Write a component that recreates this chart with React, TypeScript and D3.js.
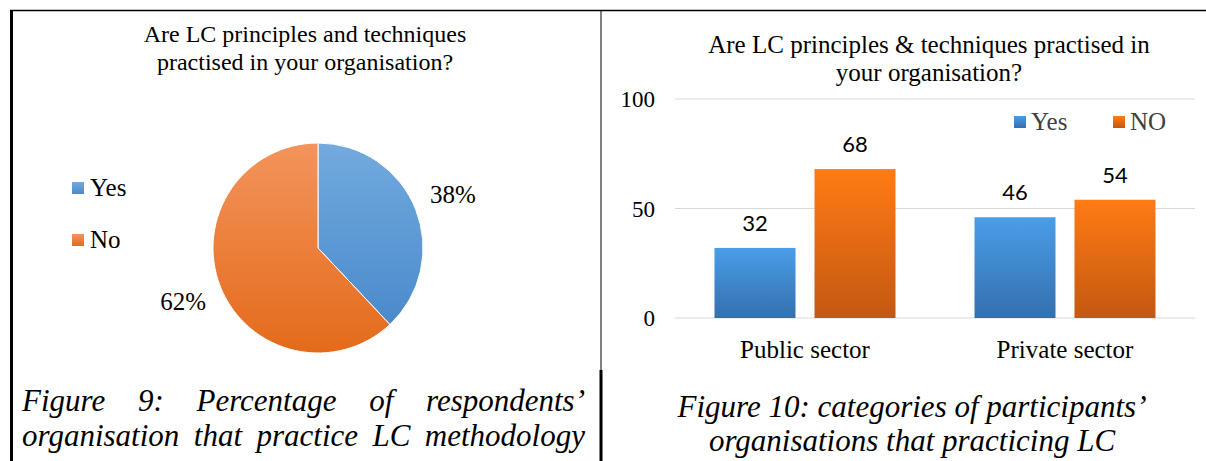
import React, { useEffect, useRef } from "react";
import * as d3 from "d3";

const pieLabels = ["Yes", "No"];
const pieValues = [38, 62];
const barCategories = ["Public sector", "Private sector"];
const barSeries = ["Yes", "NO"];
const yesValues = [32, 46];
const noValues = [68, 54];
const yTicks = [0, 50, 100];

const SERIF = "'Liberation Serif', 'Times New Roman', serif";
const SANS = "Lato, 'Open Sans', sans-serif";

export default function App() {
  const ref = useRef<SVGSVGElement>(null);

  useEffect(() => {
    const svg = d3.select(ref.current);
    svg.selectAll("*").remove();

    const defs = svg.append("defs");
    const grad = (id: string, top: string, bottom: string) => {
      const g = defs.append("linearGradient").attr("id", id).attr("x1", 0).attr("y1", 0).attr("x2", 0).attr("y2", 1);
      g.append("stop").attr("offset", "0%").attr("stop-color", top);
      g.append("stop").attr("offset", "100%").attr("stop-color", bottom);
    };
    grad("pieYes", "#73AADF", "#4A8ACB");
    grad("pieNo", "#F3945C", "#E46A1A");
    grad("barYes", "#4A9DE8", "#3470AD");
    grad("barNo", "#FF7B15", "#C45811");

    // Borders
    svg.append("line").attr("x1", 10).attr("x2", 1206).attr("y1", 10.5).attr("y2", 10.5).attr("stroke", "#000").attr("stroke-width", 1.5);
    svg.append("line").attr("x1", 11.5).attr("x2", 11.5).attr("y1", 10).attr("y2", 461).attr("stroke", "#000").attr("stroke-width", 3);
    svg.append("line").attr("x1", 601).attr("x2", 601).attr("y1", 10).attr("y2", 370).attr("stroke", "#000").attr("stroke-width", 1);
    svg.append("line").attr("x1", 601).attr("x2", 601).attr("y1", 370).attr("y2", 461).attr("stroke", "#000").attr("stroke-width", 3);

    // ---------- Pie chart ----------
    const left = svg.append("g");
    const titleL = ["Are LC principles and techniques", "practised in your organisation?"];
    titleL.forEach((t, i) => {
      left.append("text").attr("x", 305).attr("y", 42 + i * 28).attr("text-anchor", "middle")
        .attr("font-family", SERIF).attr("font-size", 24).attr("fill", "#000").text(t);
    });

    const cx = 318, cy = 248, R = 105;
    const pie = d3.pie<number>().sort(null).value((d) => d);
    const arcs = pie(pieValues);
    const arc = d3.arc<d3.PieArcDatum<number>>().innerRadius(0).outerRadius(R);
    const labelArc = d3.arc<d3.PieArcDatum<number>>().innerRadius(145).outerRadius(145);
    const pg = left.append("g").attr("transform", `translate(${cx},${cy})`);
    const fills = ["url(#pieYes)", "url(#pieNo)"];
    pg.selectAll("path").data(arcs).enter().append("path")
      .attr("d", arc as any).attr("fill", (_d, i) => fills[i]).attr("stroke", "#fff").attr("stroke-width", 1);
    pg.selectAll("text.lab").data(arcs).enter().append("text").attr("class", "lab")
      .attr("transform", (d) => `translate(${labelArc.centroid(d)})`)
      .attr("text-anchor", "middle").attr("dy", "0.35em")
      .attr("font-family", SERIF).attr("font-size", 25).attr("fill", "#000")
      .text((d) => `${d.data}%`);

    pieLabels.forEach((l, i) => {
      left.append("rect").attr("x", 72).attr("y", 182 + i * 52).attr("width", 12).attr("height", 12).attr("fill", fills[i]);
      left.append("text").attr("x", 90).attr("y", 196 + i * 52).attr("font-family", SERIF).attr("font-size", 25).attr("fill", "#000").text(l);
    });

    // caption justified
    const capL = ["Figure 9: Percentage of respondents’", "organisation that practice LC methodology"];
    capL.forEach((line, li) => {
      const words = line.split(" ");
      const y = 411 + li * 35;
      const nodes = words.map((w) => left.append("text").attr("y", y).attr("font-family", SERIF)
        .attr("font-style", "italic").attr("font-size", 31).attr("fill", "#000").text(w));
      const widths = nodes.map((n) => (n.node() as SVGTextElement).getComputedTextLength());
      const total = widths.reduce((a, b) => a + b, 0);
      const x0 = 22, x1 = 585;
      const gap = (x1 - x0 - total) / (words.length - 1);
      let x = x0;
      nodes.forEach((n, i) => { n.attr("x", x); x += widths[i] + gap; });
    });

    // ---------- Bar chart ----------
    const right = svg.append("g");
    const titleR = ["Are LC principles & techniques practised in", "your organisation?"];
    titleR.forEach((t, i) => {
      right.append("text").attr("x", 929).attr("y", 53 + i * 28).attr("text-anchor", "middle")
        .attr("font-family", SERIF).attr("font-size", 25).attr("fill", "#000").text(t);
    });

    const y = d3.scaleLinear().domain([0, 100]).range([318, 99]);
    const x0 = d3.scaleBand<string>().domain(barCategories).range([675, 1195]);
    const x1 = d3.scaleBand<string>().domain(barSeries).range([0, 181]).paddingInner(0.19);
    const off = (x0.bandwidth() - 181) / 2;

    yTicks.forEach((t) => {
      right.append("line").attr("x1", 675).attr("x2", 1195).attr("y1", y(t)).attr("y2", y(t))
        .attr("stroke", "#D9D9D9").attr("stroke-width", 1.2);
      right.append("text").attr("x", 655).attr("y", y(t)).attr("dy", "0.35em").attr("text-anchor", "end")
        .attr("font-family", SERIF).attr("font-size", 23).attr("fill", "#000").text(String(t));
    });

    const seriesVals = [yesValues, noValues];
    const barFills = ["url(#barYes)", "url(#barNo)"];
    barCategories.forEach((c, ci) => {
      barSeries.forEach((s, si) => {
        const v = seriesVals[si][ci];
        const bx = (x0(c) as number) + off + (x1(s) as number);
        right.append("rect").attr("x", bx).attr("y", y(v)).attr("width", x1.bandwidth())
          .attr("height", y(0) - y(v)).attr("fill", barFills[si]);
        right.append("text").attr("x", bx + x1.bandwidth() / 2).attr("y", y(v) - 17).attr("text-anchor", "middle")
          .attr("font-family", SANS).attr("font-size", 22).attr("fill", "#000").text(String(v));
      });
      right.append("text").attr("x", (x0(c) as number) + x0.bandwidth() / 2).attr("y", 358).attr("text-anchor", "middle")
        .attr("font-family", SERIF).attr("font-size", 25).attr("fill", "#000").text(c);
    });

    const legX = [1014, 1113];
    barSeries.forEach((s, i) => {
      right.append("rect").attr("x", legX[i]).attr("y", 116).attr("width", 12).attr("height", 12).attr("fill", barFills[i]);
      right.append("text").attr("x", legX[i] + 17).attr("y", 130).attr("font-family", SERIF).attr("font-size", 25)
        .attr("fill", "#404040").text(s);
    });

    const capR = ["Figure 10: categories of participants’", "organisations that practicing LC"];
    capR.forEach((t, i) => {
      right.append("text").attr("x", 912).attr("y", 417 + i * 34).attr("text-anchor", "middle")
        .attr("font-family", SERIF).attr("font-style", "italic").attr("font-size", 31).attr("fill", "#000").text(t);
    });
  }, []);

  return (
    <svg ref={ref} width={1206} height={461} style={{ position: "absolute", left: 0, top: 0, background: "#fff" }} />
  );
}
